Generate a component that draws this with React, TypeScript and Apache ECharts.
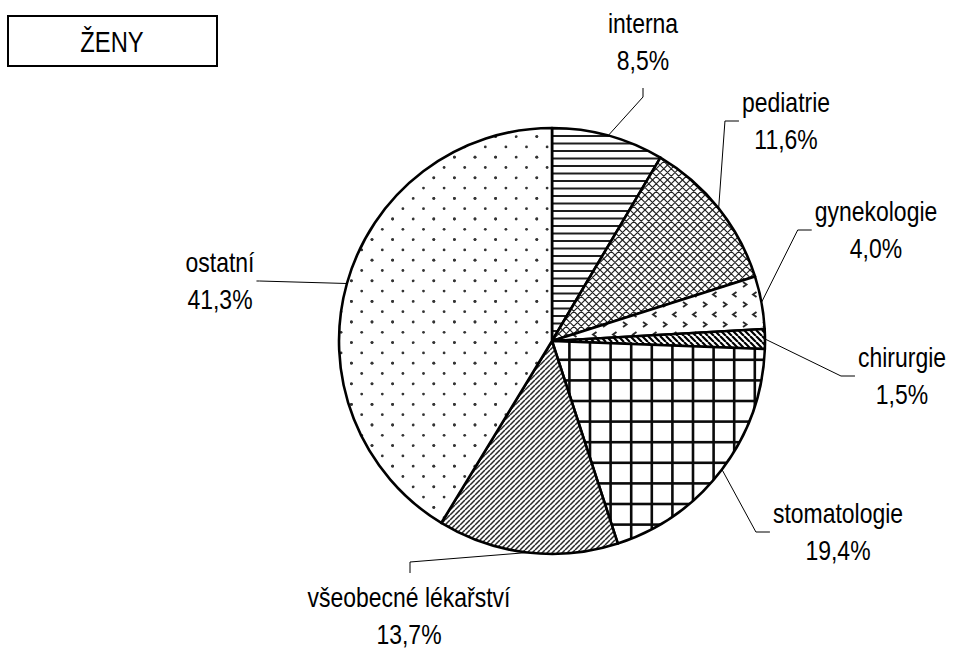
import React, { useEffect, useRef } from 'react';
import * as echarts from 'echarts';

const categories = ['interna', 'pediatrie', 'gynekologie', 'chirurgie', 'stomatologie', 'všeobecné lékařství', 'ostatní'];
const shares = [8.5, 11.6, 4.0, 1.5, 19.4, 13.7, 41.3];
const titleText = 'ŽENY';

// label placement (layout only): label centre and the side the leader line enters from
const labelAnchors = [
  { x: 643, y: 42, side: 'bottom' },
  { x: 786, y: 121, side: 'left' },
  { x: 876, y: 230, side: 'left' },
  { x: 902, y: 376, side: 'left' },
  { x: 838, y: 532, side: 'left' },
  { x: 409, y: 616, side: 'top' },
  { x: 220, y: 281, side: 'right' },
];

const FONT = '"Liberation Sans", Arial, sans-serif';
const NARROW = 0.82; // horizontal squeeze to imitate a narrow typeface

type Draw = (ctx: CanvasRenderingContext2D, w: number, h: number) => void;

function tile(w: number, h: number, draw: Draw) {
  const c = document.createElement('canvas');
  c.width = w;
  c.height = h;
  const ctx = c.getContext('2d')!;
  ctx.fillStyle = '#ffffff';
  ctx.fillRect(0, 0, w, h);
  draw(ctx, w, h);
  return { image: c, repeat: 'repeat', imageWidth: w, imageHeight: h } as any;
}

function makePatterns() {
  const interna = tile(4, 15, (ctx) => {
    ctx.fillStyle = '#1e1e1e';
    ctx.fillRect(0, 0, 4, 2);
    ctx.fillRect(0, 7.5, 4, 2);
  });
  const pediatrie = tile(15, 15, (ctx) => {
    ctx.strokeStyle = '#222';
    ctx.lineWidth = 1.2;
    ctx.beginPath();
    for (let c = -15; c <= 30; c += 7.5) {
      ctx.moveTo(c, 0);
      ctx.lineTo(c - 15, 15);
      ctx.moveTo(c, 0);
      ctx.lineTo(c + 15, 15);
    }
    ctx.stroke();
  });
  const gynekologie = tile(20, 20, (ctx) => {
    ctx.strokeStyle = '#2a2a2a';
    ctx.lineWidth = 1.9;
    ctx.beginPath();
    ctx.moveTo(3, 2);
    ctx.lineTo(6.5, 4.5);
    ctx.lineTo(3, 7);
    ctx.moveTo(16.5, 12);
    ctx.lineTo(13, 14.5);
    ctx.lineTo(16.5, 17);
    ctx.stroke();
  });
  const chirurgie = tile(6, 6, (ctx) => {
    ctx.strokeStyle = '#000';
    ctx.lineWidth = 2.2;
    ctx.beginPath();
    for (let c = -6; c <= 6; c += 6) {
      ctx.moveTo(c, 0);
      ctx.lineTo(c + 6, 6);
    }
    ctx.stroke();
  });
  const stomatologie = tile(103, 103, (ctx) => {
    ctx.fillStyle = '#0a0a0a';
    for (let k = 0; k < 5; k++) {
      const p = 13.2 + k * 20.6;
      ctx.fillRect(p - 1.3, 0, 2.6, 103);
    }
    for (let k = 0; k < 5; k++) {
      const p = 9.6 + k * 20.6;
      ctx.fillRect(0, p - 1.3, 103, 2.6);
    }
  });
  const vseob = tile(5, 5, (ctx) => {
    ctx.strokeStyle = '#2a2a2a';
    ctx.lineWidth = 1.5;
    ctx.beginPath();
    for (let c = 0; c <= 10; c += 5) {
      ctx.moveTo(c, 0);
      ctx.lineTo(c - 5, 5);
    }
    ctx.stroke();
  });
  const ostatni = tile(103, 103, (ctx) => {
    ctx.fillStyle = '#333';
    const dot = (x: number, y: number) => {
      ctx.beginPath();
      ctx.arc(x, y, 1.4, 0, Math.PI * 2);
      ctx.fill();
    };
    for (let i = 0; i < 5; i++) {
      for (let j = 0; j < 5; j++) {
        const x0 = i * 20.6;
        const y0 = j * 20.6;
        dot(x0 + 11.5, y0 + 2.7);
        dot(x0 + 1.2, y0 + 13);
        dot(x0 + 21.8, y0 + 13);
      }
    }
  });
  return [interna, pediatrie, gynekologie, chirurgie, stomatologie, vseob, ostatni];
}

const fmt = (v: number) => v.toFixed(1).replace('.', ',');

export default function App() {
  const ref = useRef<HTMLDivElement>(null);
  useEffect(() => {
    if (!ref.current) return;
    const chart = echarts.init(ref.current, null, { renderer: 'svg' });
    const patterns = makePatterns();
    const option: any = {
      animation: false,
      backgroundColor: '#ffffff',
      graphic: [
        {
          type: 'rect',
          shape: { x: 8, y: 16, width: 209, height: 50 },
          style: { fill: '#fff', stroke: '#000', lineWidth: 2 },
        },
        {
          type: 'text',
          x: 112,
          y: 42,
          scaleX: NARROW,
          style: {
            text: titleText,
            font: `29px ${FONT}`,
            fill: '#000',
            align: 'center',
            verticalAlign: 'middle',
            textAlign: 'center',
            textVerticalAlign: 'middle',
          },
        },
      ],
      series: [
        {
          type: 'pie',
          center: [552, 341],
          radius: 213,
          startAngle: 90,
          clockwise: true,
          avoidLabelOverlap: false,
          data: categories.map((name, i) => ({
            name,
            value: shares[i],
            itemStyle: { color: patterns[i] },
          })),
          itemStyle: { borderColor: '#000', borderWidth: 2.6 },
          emphasis: { disabled: true },
          label: {
            show: true,
            position: 'outside',
            formatter: (p: any) => `${p.name}\n${fmt(p.value)}%`,
            fontFamily: FONT,
            fontSize: 28,
            lineHeight: 37,
            color: '#000',
            align: 'center',
          },
          labelLine: {
            show: true,
            length: 10,
            length2: 10,
            lineStyle: { color: '#000', width: 1 },
          },
          labelLayout: (params: any) => {
            const a = labelAnchors[params.dataIndex];
            const w = params.labelRect.width * NARROW;
            const h = params.labelRect.height;
            const pts = params.labelLinePoints;
            const res: any = { x: a.x, y: a.y, align: 'center', verticalAlign: 'middle' };
            if (pts && pts.length) {
              const s = pts[0];
              let line: number[][];
              if (a.side === 'left') {
                const ex = a.x - w / 2 - 3;
                line = [s, [ex - 14, a.y], [ex, a.y]];
              } else if (a.side === 'right') {
                const ex = a.x + w / 2 + 2;
                line = [s, [ex + 3, a.y], [ex, a.y]];
              } else if (a.side === 'bottom') {
                const ey = a.y + h / 2 + 9;
                line = [s, [a.x, ey + 9], [a.x, ey]];
              } else {
                const ey = a.y - h / 2 - 6;
                line = [s, [a.x + 1, ey - 11], [a.x + 1, ey]];
              }
              res.labelLinePoints = line;
            }
            return res;
          },
        },
      ],
    };
    chart.setOption(option);

    // squeeze the pie labels horizontally (narrow typeface look)
    const seriesModel: any = (chart as any).getModel().getSeriesByIndex(0);
    const data = seriesModel.getData();
    for (let i = 0; i < data.count(); i++) {
      const el: any = data.getItemGraphicEl(i);
      const label = el && el.getTextContent && el.getTextContent();
      if (label) {
        label.scaleX = NARROW;
        label.markRedraw();
      }
    }
    chart.getZr().refresh();
    (chart.getZr() as any).flush && (chart.getZr() as any).flush();

    return () => chart.dispose();
  }, []);
  return (
    <div
      ref={ref}
      style={{ position: 'fixed', left: 0, top: 0, width: 953, height: 651, background: '#fff' }}
    />
  );
}
